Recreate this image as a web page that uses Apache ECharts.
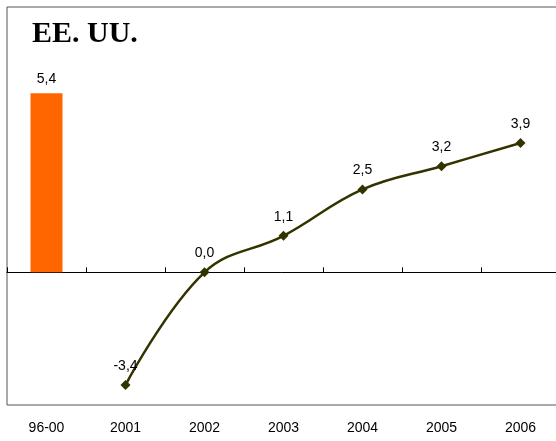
<!DOCTYPE html>
<html>
<head>
<meta charset="utf-8">
<script src="https://cdn.jsdelivr.net/npm/echarts@6/dist/echarts.min.js"></script>
<style>
  html, body { margin: 0; padding: 0; background: #fff; }
  #chart { width: 556px; height: 441px; }
</style>
</head>
<body>
<div id="chart"></div>
<script>
const categories = ['96-00', '2001', '2002', '2003', '2004', '2005', '2006'];
const averageValues = [5.4, null, null, null, null, null, null];
const yearlyValues = [null, -3.4, 0.0, 1.1, 2.5, 3.2, 3.9];
const yMin = -4;
const yMax = 8;

const fmt = (p) => p.value.toFixed(1).replace('.', ',');

const chart = echarts.init(document.getElementById('chart'));

const option = {
  animation: false,
  title: {
    text: 'EE. UU.',
    left: 27,
    top: 14,
    textStyle: {
      fontFamily: 'Liberation Serif',
      fontWeight: 'bold',
      fontSize: 30,
      color: '#000',
    },
  },
  grid: {
    left: 7,
    top: 7,
    width: 553,
    bottom: 36,
    outerBoundsMode: 'none',
    containLabel: false,
    show: true,
    borderColor: '#555',
    borderWidth: 1,
  },
  xAxis: [
    {
      type: 'category',
      data: categories,
      position: 'bottom',
      axisLine: { show: false, onZero: false },
      axisTick: { show: false },
      axisLabel: {
        margin: 16,
        fontFamily: 'Liberation Sans',
        fontSize: 14,
        color: '#000',
      },
    },
    {
      type: 'category',
      data: categories,
      position: 'top',
      axisLine: { show: true, onZero: true, lineStyle: { color: '#000', width: 1 } },
      axisTick: { show: true, length: 5, lineStyle: { color: '#000' } },
      axisLabel: { show: false },
    },
  ],
  yAxis: {
    type: 'value',
    min: yMin,
    max: yMax,
    interval: 2,
    axisLine: { show: false },
    axisTick: { show: false },
    axisLabel: { show: false },
    splitLine: { show: false },
  },
  series: [
    {
      name: '96-00',
      type: 'bar',
      data: averageValues,
      barWidth: 32,
      itemStyle: { color: '#ff6600' },
      label: {
        show: true,
        position: 'top',
        distance: 7,
        formatter: fmt,
        fontFamily: 'Liberation Sans',
        fontSize: 14,
        color: '#000',
      },
    },
    {
      name: 'Años',
      type: 'line',
      data: yearlyValues,
      smooth: 0.4,
      symbol: 'diamond',
      symbolSize: 10,
      lineStyle: { color: '#333300', width: 2.5 },
      itemStyle: { color: '#333300' },
      label: {
        show: true,
        position: 'top',
        distance: 7,
        formatter: fmt,
        fontFamily: 'Liberation Sans',
        fontSize: 14,
        color: '#000',
      },
    },
  ],
};

chart.setOption(option);
</script>
</body>
</html>
